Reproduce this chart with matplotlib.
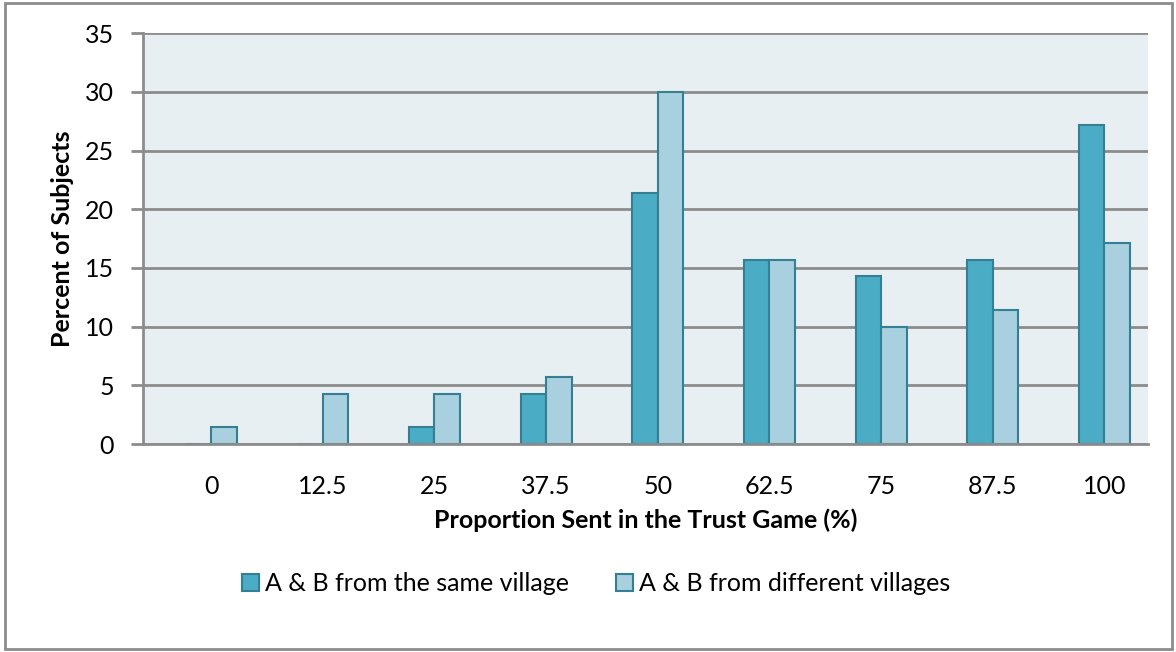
import numpy as np
import matplotlib.pyplot as plt
from matplotlib.patches import Rectangle

plt.rcParams['font.family'] = ['Lato', 'DejaVu Sans']

# Data
categories = ['0', '12.5', '25', '37.5', '50', '62.5', '75', '87.5', '100']
same_village = [0, 0, 1.43, 4.29, 21.43, 15.71, 14.29, 15.71, 27.14]
diff_villages = [1.43, 4.29, 4.29, 5.71, 30.0, 15.71, 10.0, 11.43, 17.14]

dark = '#4bacc6'
light = '#a9d0de'
edge = '#357f93'
grid_gray = '#8c8c8c'

fig = plt.figure(figsize=(11.76, 6.52), dpi=100)
ax = fig.add_axes([0.1216, 0.319, 0.8546, 0.630])

x = np.arange(len(categories))
w = 0.228
ax.bar(x - w / 2, same_village, width=w, color=dark, edgecolor=edge,
       linewidth=1.5, label='A & B from the same village', zorder=3)
ax.bar(x + w / 2, diff_villages, width=w, color=light, edgecolor=edge,
       linewidth=1.5, label='A & B from different villages', zorder=3)

ax.set_facecolor('#e8eff3')
ax.set_ylim(0, 35)
ax.set_yticks(np.arange(0, 36, 5))
ax.set_xlim(-0.61, 8.39)
ax.set_xticks(x)
ax.set_xticklabels(categories)
ax.yaxis.grid(True, color=grid_gray, linewidth=2, zorder=1)
ax.set_axisbelow(True)

for s in ['top', 'right']:
    ax.spines[s].set_visible(False)
for s in ['left', 'bottom']:
    ax.spines[s].set_color(grid_gray)
    ax.spines[s].set_linewidth(2)
    ax.spines[s].set_zorder(4)

ax.tick_params(axis='y', length=9, width=2, color=grid_gray, labelsize=18, pad=12)
ax.tick_params(axis='x', length=0, labelsize=18, pad=22)

ax.set_ylabel('Percent of Subjects', fontsize=18, fontweight='bold', labelpad=8)
ax.set_xlabel('Proportion Sent in the Trust Game (%)', fontsize=18,
              fontweight='bold', labelpad=8)

fig.legend(loc='center', bbox_to_anchor=(0.507, 0.105), ncol=2, frameon=False,
           fontsize=18, handlelength=0.65, handleheight=0.65, handletextpad=0.25,
           columnspacing=1.9)

fig.patches.append(Rectangle((0.004, 0.005), 0.993, 0.99, transform=fig.transFigure,
                             fill=False, edgecolor='#8c8c8c', linewidth=2))

fig.savefig('out.png', dpi=100)
